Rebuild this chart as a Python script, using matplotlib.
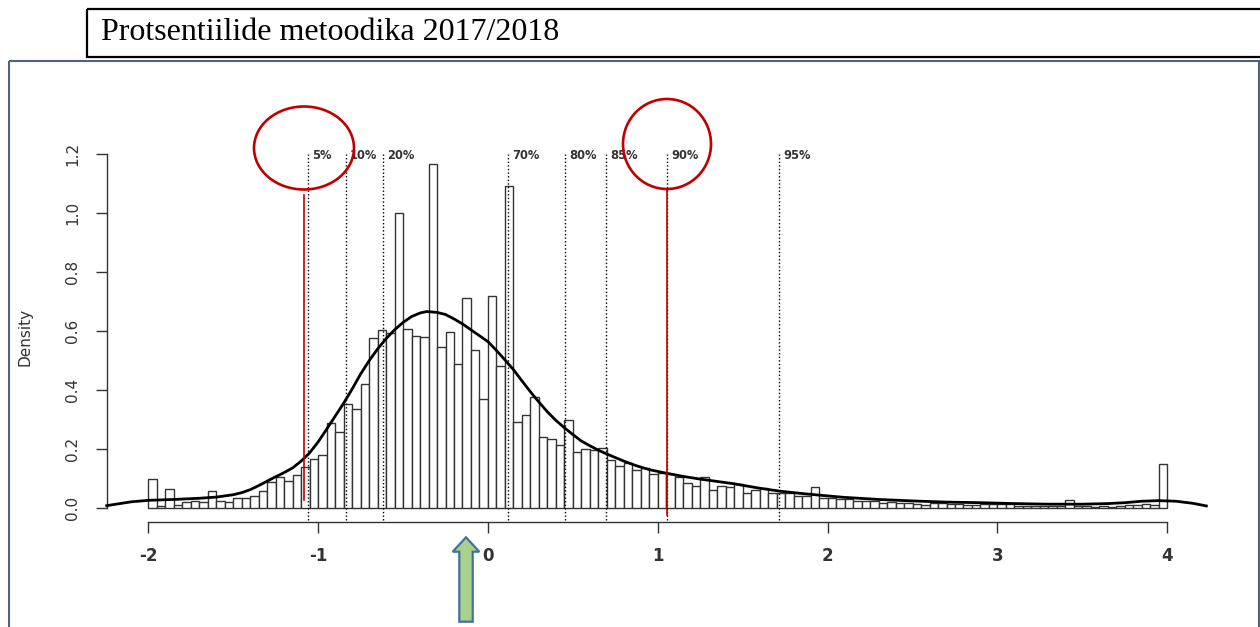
import numpy as np
import matplotlib
matplotlib.use('Agg')
import matplotlib.pyplot as plt
from matplotlib.patches import Rectangle, Ellipse, Polygon

# ------------------------------------------------------------
# data
# ------------------------------------------------------------
bin_start = -2.0
bin_width = 0.05
# density of each bin, left to right (-2.00 ... 3.95)
bar_density = [
    0.100, 0.009, 0.067, 0.011, 0.020, 0.025, 0.020, 0.059, 0.025, 0.023,
    0.034, 0.034, 0.040, 0.059, 0.090, 0.105, 0.094, 0.113, 0.139, 0.167,
    0.180, 0.288, 0.260, 0.354, 0.336, 0.420, 0.576, 0.603, 0.595, 1.000,
    0.607, 0.583, 0.580, 1.166, 0.548, 0.599, 0.489, 0.712, 0.537, 0.370,
    0.720, 0.482, 1.092, 0.291, 0.315, 0.377, 0.242, 0.234, 0.215, 0.300,
    0.190, 0.202, 0.197, 0.203, 0.163, 0.145, 0.153, 0.131, 0.136, 0.115,
    0.119, 0.115, 0.107, 0.087, 0.077, 0.105, 0.062, 0.077, 0.073, 0.082,
    0.051, 0.062, 0.070, 0.051, 0.053, 0.051, 0.042, 0.042, 0.071, 0.034,
    0.034, 0.031, 0.031, 0.026, 0.025, 0.025, 0.019, 0.023, 0.019, 0.019,
    0.014, 0.011, 0.017, 0.019, 0.014, 0.014, 0.011, 0.011, 0.014, 0.014,
    0.014, 0.014, 0.008, 0.008, 0.008, 0.008, 0.008, 0.008, 0.027, 0.009,
    0.008, 0.006, 0.009, 0.006, 0.008, 0.011, 0.011, 0.014, 0.011, 0.149,
]

# kernel density curve
kde_x = [-2.245, -2.1, -2.0, -1.85, -1.7, -1.6, -1.5, -1.45, -1.4, -1.35,
         -1.3, -1.25, -1.2, -1.15, -1.1, -1.05, -1.0, -0.95, -0.9, -0.85,
         -0.8, -0.75, -0.7, -0.65, -0.6, -0.55, -0.5, -0.45, -0.4, -0.36,
         -0.3, -0.25, -0.2, -0.15, -0.1, -0.05, 0.0, 0.05, 0.1, 0.15,
         0.2, 0.25, 0.3, 0.35, 0.4, 0.45, 0.5, 0.55, 0.6, 0.65,
         0.7, 0.75, 0.8, 0.87, 0.95, 1.05, 1.15, 1.25, 1.35, 1.45,
         1.6, 1.72, 1.85, 2.0, 2.1, 2.3, 2.5, 2.7, 2.9, 3.1,
         3.3, 3.5, 3.65, 3.75, 3.85, 3.95, 4.05, 4.15, 4.23]
kde_y = [0.009, 0.022, 0.027, 0.030, 0.034, 0.038, 0.046, 0.053, 0.063, 0.077,
         0.092, 0.107, 0.121, 0.137, 0.160, 0.188, 0.225, 0.268, 0.312, 0.356,
         0.404, 0.455, 0.500, 0.540, 0.575, 0.605, 0.630, 0.650, 0.662, 0.667,
         0.664, 0.657, 0.642, 0.625, 0.605, 0.585, 0.565, 0.535, 0.503, 0.470,
         0.432, 0.395, 0.360, 0.327, 0.298, 0.273, 0.250, 0.228, 0.212, 0.197,
         0.184, 0.172, 0.160, 0.145, 0.131, 0.119, 0.108, 0.099, 0.091, 0.083,
         0.068, 0.058, 0.050, 0.042, 0.037, 0.030, 0.025, 0.021, 0.019, 0.016,
         0.014, 0.014, 0.016, 0.019, 0.024, 0.026, 0.024, 0.017, 0.008]

# percentile markers
pct_labels = ['5%', '10%', '20%', '70%', '80%', '85%', '90%', '95%']
pct_x = [-1.058, -0.837, -0.616, 0.117, 0.456, 0.694, 1.057, 1.714]

# red highlight lines (5% and 90%)
red_x = [-1.081, 1.053]
red_lo = [0.028, -0.023]
red_hi = [1.062, 1.079]

xtick_vals = [-2, -1, 0, 1, 2, 3, 4]
xtick_labels = ['-2', '-1', '0', '1', '2', '3', '4']
ytick_vals = [0.0, 0.2, 0.4, 0.6, 0.8, 1.0, 1.2]
ytick_labels = ['0.0', '0.2', '0.4', '0.6', '0.8', '1.0', '1.2']

title_text = 'Protsentiilide metoodika 2017/2018'

# ------------------------------------------------------------
# figure
# ------------------------------------------------------------
W, H = 1260, 627
fig = plt.figure(figsize=(W / 100, H / 100), dpi=100)

AXC = '#333333'
RED = '#C00000'

# main plot area (pixel layout -> figure fractions)
px_left, px_right, px_top, px_bot = 100, 1235, 140, 545
x0_px, xscale = 148.3, 169.83   # pixel of x=-2, pixels per unit
y0_px, yscale = 508.3, 295.0    # pixel of y=0, pixels per unit

ax = fig.add_axes([px_left / W, 1 - px_bot / H,
                   (px_right - px_left) / W, (px_bot - px_top) / H])
ax.set_xlim(-2 - (x0_px - px_left) / xscale, -2 + (px_right - x0_px) / xscale)
ax.set_ylim((y0_px - px_bot) / yscale, (y0_px - px_top) / yscale)
ax.patch.set_alpha(0)

lefts = bin_start + bin_width * np.arange(len(bar_density))
ax.bar(lefts, bar_density, width=bin_width, align='edge',
       facecolor='white', edgecolor=AXC, linewidth=1.0, zorder=2)

ax.plot(kde_x, kde_y, color='black', lw=2.0, zorder=4, clip_on=False,
        solid_joinstyle='round')

for lab, xv in zip(pct_labels, pct_x):
    ax.plot([xv, xv], [-0.04, 1.2], color='black', lw=1.0,
            ls=(0, (1, 1.6)), zorder=3, clip_on=False)
    ax.annotate(lab, (xv, 1.195), xytext=(3, 0), textcoords='offset points',
                ha='left', va='center', fontsize=8.3, fontweight='bold',
                color=AXC, annotation_clip=False)

for xv, lo, hi in zip(red_x, red_lo, red_hi):
    ax.plot([xv, xv], [lo, hi], color=RED, lw=1.2, zorder=5, clip_on=False)

# R style axes
for s in ['top', 'right']:
    ax.spines[s].set_visible(False)
ax.spines['left'].set_position(('data', -2.245))
ax.spines['left'].set_bounds(0, 1.2)
ax.spines['bottom'].set_position(('data', -0.0464))
ax.spines['bottom'].set_bounds(-2, 4)
for s in ['left', 'bottom']:
    ax.spines[s].set_color(AXC)
    ax.spines[s].set_linewidth(1.0)

ax.set_xticks(xtick_vals)
ax.set_xticklabels(xtick_labels, fontsize=12, fontweight='bold', color=AXC)
ax.set_yticks(ytick_vals)
ax.set_yticklabels(ytick_labels, fontsize=11, color=AXC,
                   rotation=90, va='center', ha='right')
ax.tick_params(axis='both', direction='out', length=8, width=1.0, color=AXC)
ax.tick_params(axis='x', pad=10)
ax.tick_params(axis='y', pad=11)

fig.text(25 / W, 1 - 337 / H, 'Density', rotation=90, ha='center',
         va='center', fontsize=11, color=AXC)

# ------------------------------------------------------------
# slide decorations (pixel coordinates)
# ------------------------------------------------------------
ov = fig.add_axes([0, 0, 1, 1])
ov.set_xlim(0, W)
ov.set_ylim(H, 0)
ov.axis('off')
ov.patch.set_alpha(0)

# title box
ov.add_patch(Rectangle((87, 9), 1190, 48, fill=False, edgecolor='black',
                       lw=1.6, clip_on=False))
ov.text(101, 33, title_text, fontsize=23, family='Liberation Serif',
        ha='left', va='center', color='black')

# chart frame
ov.add_patch(Rectangle((8.5, 61), 1250, 600, fill=False,
                       edgecolor='#4F6180', lw=1.5, clip_on=False))

# red circles
ov.add_patch(Ellipse((304, 148), 100, 83, fill=False, edgecolor=RED, lw=1.9))
ov.add_patch(Ellipse((667, 144), 88, 90, fill=False, edgecolor=RED, lw=1.9))

# green arrow
arrow_pts = [(466, 537.3), (479.3, 551.7), (472.7, 551.7), (472.7, 621.7),
             (459.3, 621.7), (459.3, 551.7), (452.7, 551.7)]
ov.add_patch(Polygon(arrow_pts, closed=True, facecolor='#A9D18E',
                     edgecolor='#41719C', lw=1.6, joinstyle='miter'))

fig.savefig('out.png', dpi=100)
